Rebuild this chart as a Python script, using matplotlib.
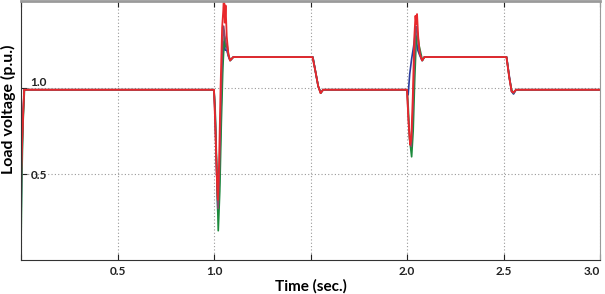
import matplotlib
matplotlib.use("Agg")
import matplotlib.pyplot as plt

plt.rcParams['font.family'] = ['Lato', 'DejaVu Sans']

# x ticks and their labels (1.5 and 0 have no label in the original)
x_ticks = [0.0, 0.5, 1.0, 1.5, 2.0, 2.5, 3.0]
x_labels = ['', '0.5', '1.0', '', '2.0', '2.5', '3.0']
y_ticks = [0.5, 1.0]
y_labels = ['0.5', '1.0']

# load voltage traces (time in s, voltage in p.u.)
t_blue = [0.0, 0.004, 0.010, 0.017, 1.0, 1.006, 1.013, 1.020, 1.028, 1.036, 1.044,
          1.052, 1.058, 1.066, 1.076, 1.084, 1.10, 1.512, 1.525, 1.540, 1.553,
          1.566, 2.0, 2.006, 2.014, 2.024, 2.034, 2.042, 2.048, 2.056, 2.066,
          2.078, 2.09, 2.516, 2.530, 2.542, 2.552, 2.565, 3.0]
v_blue = [0.20, 0.55, 0.82, 0.99, 0.99, 0.85, 0.55, 0.27, 0.45, 0.85, 1.15,
          1.27, 1.22, 1.22, 1.18, 1.16, 1.18, 1.18, 1.10, 1.01, 0.975,
          0.99, 0.99, 0.96, 1.08, 1.17, 1.24, 1.31, 1.28, 1.22, 1.19,
          1.16, 1.18, 1.18, 1.07, 0.98, 0.965, 0.99, 0.99]

t_green = [0.0, 0.004, 0.010, 0.018, 1.0, 1.006, 1.014, 1.022, 1.030, 1.038, 1.046,
           1.054, 1.060, 1.068, 1.076, 1.084, 1.10, 1.512, 1.525, 1.540, 1.553,
           1.566, 2.0, 2.006, 2.014, 2.024, 2.032, 2.040, 2.048, 2.054, 2.062,
           2.072, 2.080, 2.09, 2.516, 2.530, 2.542, 2.552, 2.565, 3.0]
v_green = [0.07, 0.45, 0.78, 0.99, 0.99, 0.88, 0.55, 0.17, 0.40, 0.80, 1.12,
           1.30, 1.24, 1.25, 1.19, 1.16, 1.18, 1.18, 1.10, 1.01, 0.97,
           0.99, 0.99, 0.90, 0.70, 0.60, 0.75, 1.05, 1.28, 1.32, 1.25,
           1.20, 1.16, 1.18, 1.18, 1.06, 0.99, 0.97, 0.99, 0.99]

t_purple = [0.0, 0.004, 0.010, 0.017, 1.0, 1.006, 1.014, 1.021, 1.028, 1.036, 1.044,
            1.050, 1.056, 1.064, 1.074, 1.083, 1.10, 1.512, 1.525, 1.540, 1.553,
            1.566, 2.0, 2.006, 2.014, 2.022, 2.030, 2.038, 2.046, 2.052, 2.060,
            2.070, 2.079, 2.09, 2.516, 2.530, 2.542, 2.552, 2.565, 3.0]
v_purple = [0.30, 0.62, 0.85, 0.99, 0.99, 0.82, 0.50, 0.30, 0.52, 0.92, 1.25,
            1.36, 1.30, 1.25, 1.19, 1.16, 1.18, 1.18, 1.10, 1.01, 0.97,
            0.99, 0.99, 0.85, 0.70, 0.66, 0.85, 1.15, 1.36, 1.34, 1.24,
            1.19, 1.16, 1.18, 1.18, 1.06, 0.98, 0.97, 0.99, 0.99]

t_red = [0.0, 0.008, 0.016, 1.0, 1.006, 1.014, 1.020, 1.026, 1.034, 1.042, 1.048,
         1.052, 1.056, 1.060, 1.066, 1.074, 1.083, 1.10, 1.510, 1.525, 1.540,
         1.552, 1.565, 2.0, 2.008, 2.016, 2.022, 2.030, 2.038, 2.044, 2.048,
         2.052, 2.058, 2.066, 2.078, 2.09, 2.515, 2.530, 2.542, 2.552, 2.565, 3.0]
v_red = [0.50, 0.75, 0.99, 0.99, 0.80, 0.50, 0.35, 0.55, 1.00, 1.35, 1.45,
         1.56, 1.38, 1.48, 1.30, 1.20, 1.16, 1.18, 1.18, 1.10, 1.01,
         0.97, 0.99, 0.99, 0.80, 0.67, 0.70, 0.95, 1.30, 1.42, 1.37,
         1.43, 1.30, 1.20, 1.16, 1.18, 1.18, 1.06, 0.98, 0.975, 0.99, 0.99]

fig = plt.figure(figsize=(6.05, 2.94), dpi=100)
ax = fig.add_axes([21 / 605, 34 / 294, 579 / 605, 259 / 294])

ax.plot(t_blue, v_blue, color='#2b3b9c', lw=1.2)
ax.plot(t_green, v_green, color='#1c8a3c', lw=1.2)
ax.plot(t_purple, v_purple, color='#8a4a6a', lw=1.2)
ax.plot(t_red, v_red, color='#e8282c', lw=1.3)

ax.set_xlim(0, 3.0)
ax.set_ylim(0, 1.506)
ax.set_xticks(x_ticks)
ax.set_xticklabels(x_labels, fontsize=8.5, fontweight='bold')
ax.set_yticks(y_ticks)
ax.set_yticklabels(y_labels, fontsize=8.5, fontweight='bold')

ax.grid(True, color='#999999', linestyle=(0, (1, 2)), lw=0.8)
ax.tick_params(axis='x', direction='in', top=True, length=4, pad=4, colors='#222222')
ax.tick_params(axis='y', direction='in', length=4, pad=-7, colors='#222222')
for lab in ax.get_yticklabels():
    lab.set_horizontalalignment('left')
ax.get_yticklabels()[1].set_verticalalignment('bottom')
# last x label sits just inside the right edge, as in the original
ax.get_xticklabels()[-1].set_horizontalalignment('right')

ax.spines['left'].set_color('#333333')
ax.spines['bottom'].set_color('#333333')
ax.spines['top'].set_color('#9a9a9a')
ax.spines['top'].set_linewidth(2)
ax.spines['right'].set_color('#9a9a9a')

ax.set_xlabel('Time (sec.)', fontsize=11, fontweight='bold', labelpad=2)
ax.set_ylabel('Load voltage (p.u.)', fontsize=11.5, fontweight='bold')
ax.yaxis.set_label_coords(-0.009, 0.583)

fig.savefig('out.png', dpi=100)
